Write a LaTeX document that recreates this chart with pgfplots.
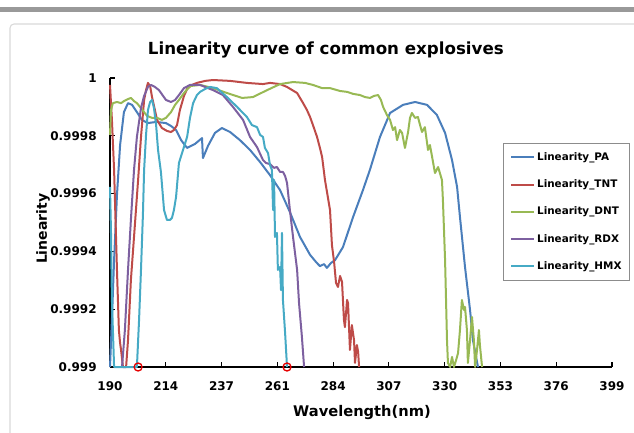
\documentclass[border=0pt]{standalone}
\usepackage{pgfplots}
\pgfplotsset{compat=1.18}
\usepackage{fontspec}
\setmainfont{DejaVu Sans}

\definecolor{cPA}{RGB}{74,126,187}
\definecolor{cTNT}{RGB}{190,75,72}
\definecolor{cDNT}{RGB}{152,185,84}
\definecolor{cRDX}{RGB}{125,96,160}
\definecolor{cHMX}{RGB}{70,170,197}

\begin{document}
\begin{tikzpicture}
% page decoration (screenshot frame)
\fill[black!40] (0pt,315pt) rectangle (475.5pt,318.5pt);
\draw[black!15, line width=0.8pt, rounded corners=3pt] (7.5pt,-5pt) -- (7.5pt,306pt) -- (480pt,306pt);

\begin{axis}[
  at={(82.5pt,48.75pt)}, anchor=south west,
  scale only axis, width=376.5pt, height=216.75pt,
  xmin=190, xmax=399, ymin=0.999, ymax=1,
  clip=false,
  axis x line=bottom, axis y line=left,
  axis line style={-, line width=0.9pt, black},
  tick align=inside, major tick length=4pt,
  tick style={black, line width=0.9pt},
  xtick={190,213.222,236.444,259.667,282.889,306.111,329.333,352.556,375.778,399},
  xticklabels={190,214,237,261,284,307,330,353,376,399},
  ytick={0.999,0.9992,0.9994,0.9996,0.9998,1},
  yticklabels={0.999,0.9992,0.9994,0.9996,0.9998,1},
  /pgf/number format/assume math mode=true,
  tick label style={font=\bfseries\fontsize{9}{10}\selectfont},
  xticklabel style={yshift=-7.5pt},
  yticklabel style={xshift=-6.5pt},
  title={Linearity curve of common explosives},
  title style={font=\bfseries\fontsize{12.5}{14}\selectfont, at={(axis description cs:0.430,1.053)}, anchor=base},
  xlabel={Wavelength(nm)},
  xlabel style={font=\bfseries\fontsize{11}{13}\selectfont, at={(axis description cs:0.502,-0.1696)}, anchor=base},
  ylabel={\fontsize{10.5}{12}\selectfont\bfseries Linearity},
  ylabel style={at={(axis description cs:-0.1335,0.478)}, anchor=center, rotate=0},
  legend style={at={(axis description cs:0.783,0.775)}, anchor=north west,
    draw=black!45, line width=0.6pt, fill=white,
    font=\bfseries\fontsize{7.8}{9}\selectfont,
    inner xsep=5pt, inner ysep=5.75pt, row sep=10.9pt, column sep=0.5pt,
    nodes={inner sep=1pt, text height=6pt, text depth=1.5pt}},
  legend cell align=left,
  legend image code/.code={\draw[#1] (0pt,0pt) -- (17.25pt,0pt);},
  every axis plot/.append style={line width=1.5pt, line join=round},
]
\addplot[cPA] coordinates {
(190.0,0.999000) (190.8,0.999163) (191.7,0.999370) (192.9,0.999595) (194.2,0.999768)
(195.8,0.999882) (197.5,0.999913) (199.2,0.999907) (201.2,0.999882) (203.3,0.999855)
(205.8,0.999844) (209.2,0.999848) (213.3,0.999844) (215.4,0.999834) (217.5,0.999820)
(219.6,0.999785) (222.1,0.999758) (225.4,0.999772) (228.3,0.999792) (228.7,0.999723)
(230.8,0.999765) (233.7,0.999810) (236.6,0.999827) (240.0,0.999813) (244.1,0.999785)
(248.3,0.999751) (252.5,0.999709) (256.6,0.999664) (260.8,0.999612) (264.9,0.999536)
(269.1,0.999450) (273.3,0.999388) (275.8,0.999363) (277.4,0.999349) (279.1,0.999356)
(280.3,0.999343) (282.0,0.999360) (283.7,0.999370) (287.0,0.999415) (291.2,0.999519)
(295.3,0.999612) (298.2,0.999682) (302.4,0.999796) (306.6,0.999879) (312.0,0.999907)
(317.0,0.999917) (322.0,0.999907) (326.1,0.999872) (329.5,0.999810) (332.4,0.999716)
(334.5,0.999623) (335.7,0.999519) (337.8,0.999346) (339.9,0.999197) (341.1,0.999093)
(343.2,0.999000)
};
\addlegendentry{Linearity\_PA}
\addplot[cTNT] coordinates {
(190.0,0.999976) (190.8,0.999855) (191.7,0.999682) (192.9,0.999336) (193.7,0.999128)
(194.2,0.999083) (194.6,0.999059) (195.4,0.999000) (196.7,0.999000) (197.5,0.999093)
(198.7,0.999301) (200.0,0.999450) (201.7,0.999647) (202.9,0.999796) (204.2,0.999924)
(205.0,0.999958) (205.8,0.999983) (206.7,0.999972) (207.5,0.999934) (209.6,0.999855)
(211.6,0.999827) (213.7,0.999817) (215.4,0.999813) (216.6,0.999820) (217.9,0.999837)
(219.1,0.999889) (220.8,0.999938) (222.1,0.999962) (224.1,0.999976) (226.2,0.999983)
(229.6,0.999990) (232.9,0.999993) (240.0,0.999990) (247.0,0.999983) (253.7,0.999979)
(256.6,0.999983) (260.8,0.999979) (263.7,0.999969) (267.9,0.999948) (270.4,0.999913)
(272.0,0.999889) (273.3,0.999865) (274.5,0.999837) (276.2,0.999796) (277.4,0.999758)
(278.3,0.999727) (279.5,0.999647) (281.6,0.999543) (282.4,0.999422) (283.3,0.999363)
(284.1,0.999291) (284.9,0.999277) (285.8,0.999315) (286.6,0.999294) (287.4,0.999163)
(287.8,0.999138) (288.7,0.999232) (289.1,0.999221) (289.9,0.999059) (290.7,0.999145)
(291.6,0.999093) (292.0,0.999014) (292.8,0.999076) (293.3,0.999052) (293.7,0.999000)
};
\addlegendentry{Linearity\_TNT}
\addplot[cDNT] coordinates {
(190.0,0.999803) (190.4,0.999889) (191.2,0.999913) (192.9,0.999917) (194.6,0.999913)
(195.8,0.999920) (197.5,0.999927) (198.7,0.999931) (200.0,0.999920) (201.2,0.999913)
(202.9,0.999896) (205.4,0.999869) (207.5,0.999862) (209.6,0.999862) (211.6,0.999855)
(213.3,0.999862) (215.4,0.999882) (217.1,0.999907) (218.7,0.999924) (220.8,0.999948)
(223.3,0.999972) (227.5,0.999976) (232.9,0.999965) (238.7,0.999948) (245.0,0.999931)
(249.5,0.999934) (255.4,0.999958) (260.8,0.999979) (266.2,0.999986) (271.2,0.999983)
(274.5,0.999976) (278.3,0.999965) (281.6,0.999965) (285.8,0.999955) (288.7,0.999952)
(291.2,0.999945) (294.1,0.999941) (296.2,0.999934) (298.2,0.999931) (299.9,0.999938)
(301.6,0.999941) (302.8,0.999924) (303.7,0.999900) (305.3,0.999872) (306.6,0.999855)
(307.8,0.999820) (308.7,0.999830) (309.5,0.999785) (310.7,0.999820) (311.6,0.999810)
(312.8,0.999758) (314.1,0.999813) (314.9,0.999862) (315.7,0.999879) (317.0,0.999862)
(318.2,0.999865) (319.1,0.999837) (319.9,0.999813) (321.1,0.999830) (322.4,0.999751)
(323.2,0.999768) (324.1,0.999727) (325.3,0.999671) (326.6,0.999692) (328.2,0.999647)
(328.6,0.999578) (329.5,0.999370) (329.9,0.999232) (330.3,0.999093) (330.7,0.999014)
(331.6,0.999000) (332.4,0.999035) (333.2,0.999000) (334.1,0.999024) (334.9,0.999048)
(335.7,0.999128) (336.5,0.999232) (337.4,0.999197) (337.8,0.999208) (338.6,0.999128)
(339.0,0.999014) (339.9,0.999093) (340.7,0.999173) (341.5,0.999093) (342.0,0.999000)
(342.8,0.999059) (343.6,0.999128) (344.0,0.999076) (344.9,0.999000)
};
\addlegendentry{Linearity\_DNT}
\addplot[cRDX] coordinates {
(195.0,0.999000) (196.2,0.999128) (197.5,0.999336) (198.7,0.999509) (200.0,0.999682)
(201.2,0.999796) (202.9,0.999896) (204.2,0.999938) (205.8,0.999969) (207.1,0.999976)
(208.7,0.999969) (210.4,0.999958) (212.1,0.999938) (213.3,0.999924) (215.4,0.999917)
(217.1,0.999924) (218.7,0.999941) (220.8,0.999965) (223.3,0.999976) (227.5,0.999976)
(232.9,0.999958) (237.0,0.999941) (241.2,0.999900) (245.4,0.999855) (248.3,0.999796)
(251.2,0.999761) (253.7,0.999716) (254.9,0.999706) (256.6,0.999702) (258.3,0.999689)
(259.5,0.999692) (260.8,0.999675) (262.0,0.999675) (262.9,0.999661) (263.7,0.999637)
(264.9,0.999543) (266.2,0.999450) (267.9,0.999336) (268.7,0.999221) (269.9,0.999104)
(270.8,0.999000)
};
\addlegendentry{Linearity\_RDX}
\addplot[cHMX] coordinates {
(190.0,0.999623) (190.4,0.999474) (190.8,0.999232) (191.7,0.999000) (201.2,0.999000)
(202.1,0.999163) (202.9,0.999336) (203.7,0.999526) (204.2,0.999682) (205.0,0.999803)
(205.8,0.999889) (206.7,0.999917) (207.5,0.999924) (208.3,0.999896) (209.2,0.999837)
(210.0,0.999751) (211.2,0.999675) (212.5,0.999543) (213.7,0.999509) (215.0,0.999509)
(215.8,0.999516) (216.6,0.999543) (217.5,0.999588) (218.7,0.999706) (220.4,0.999751)
(222.1,0.999796) (223.3,0.999862) (224.6,0.999913) (226.2,0.999941) (227.5,0.999952)
(229.6,0.999962) (231.6,0.999969) (234.5,0.999965) (238.7,0.999934) (242.9,0.999900)
(247.0,0.999865) (249.1,0.999837) (251.2,0.999830) (252.5,0.999803) (253.7,0.999796)
(254.5,0.999758) (255.8,0.999740) (256.6,0.999699) (257.4,0.999682) (257.9,0.999543)
(258.3,0.999647) (258.7,0.999450) (259.5,0.999464) (259.9,0.999336) (260.8,0.999346)
(261.2,0.999266) (261.6,0.999464) (262.0,0.999232) (262.9,0.999118) (263.7,0.999000)
};
\addlegendentry{Linearity\_HMX}
\addplot[only marks, mark=o, mark size=3pt, draw=red!90!black, line width=1pt, forget plot]
  coordinates {(201.7,0.999) (263.7,0.999)};
\end{axis}
\pgfresetboundingbox
\useasboundingbox (0pt,0pt) rectangle (475.5pt,324pt);
\end{tikzpicture}
\end{document}
